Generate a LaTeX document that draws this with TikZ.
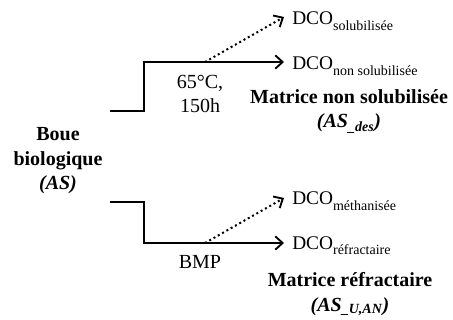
\documentclass[tikz,border=0pt]{standalone}
\usepackage{fontspec}
\setmainfont{Liberation Serif}
\usetikzlibrary{arrows.meta,positioning}
\newcommand{\dcosub}[1]{\raisebox{-0.28em}{\fontsize{10.5}{12}\selectfont #1}}

\begin{document}
\begin{tikzpicture}[x=0.75pt,y=-0.75pt,
    flow/.style={line width=1.5pt,-{Straight Barb[length=5.5pt,width=10pt,line width=1.4pt]}},
    dotflow/.style={flow,dash pattern=on 1.5pt off 2.2pt},
    txt/.style={font=\fontsize{15}{18}\selectfont,inner sep=0pt,align=center,anchor=base},
    dco/.style={font=\fontsize{14.5}{17}\selectfont,inner sep=0pt,anchor=base west},
    bold/.style={txt,font=\fontsize{15}{18.5}\selectfont\bfseries}]
  \useasboundingbox (0,0) rectangle (453,320);

  \node[bold] (boue) at (58,190) {Boue\\biologique\\\textit{(AS)}};

  % hydrolyse thermique
  \coordinate (s1) at (110,111);
  \coordinate (k1) at (144,62);
  \coordinate (t1) at (284,62);
  \coordinate (d1) at (205,62);
  \coordinate (u1) at (284,17);
  \draw[flow] (s1) -| (k1) -- (t1);
  \draw[dotflow] (d1) -- (u1);
  \node[txt] (cond) at (200,113) {65°C,\\150h};
  \node[dco] (dcosol) at (292,25) {DCO\dcosub{solubilisée}};
  \node[dco] (dconon) at (292,70) {DCO\dcosub{non solubilisée}};
  \node[bold] (matnon) at (349,128) {Matrice non solubilisée\\\textit{(AS\textsubscript{\_des})}};

  % BMP
  \coordinate (s2) at (110,202);
  \coordinate (k2) at (144,243);
  \coordinate (t2) at (284,243);
  \coordinate (d2) at (205,243);
  \coordinate (u2) at (284,198);
  \draw[flow] (s2) -| (k2) -- (t2);
  \draw[dotflow] (d2) -- (u2);
  \node[txt] (bmp) at (200,268) {BMP};
  \node[dco] (dcometh) at (292,205) {DCO\dcosub{méthanisée}};
  \node[dco] (dcoref) at (292,249) {DCO\dcosub{réfractaire}};
  \node[bold] (matref) at (350,311) {Matrice réfractaire\\\textit{(AS\textsubscript{\_U,AN})}};
\end{tikzpicture}
\end{document}
